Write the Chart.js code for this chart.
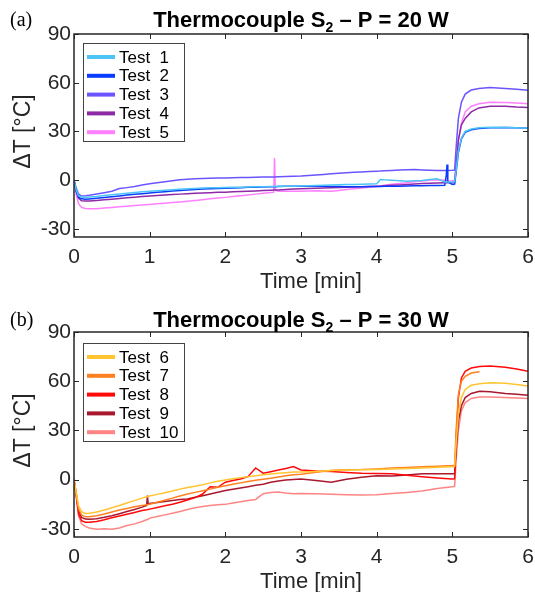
<!DOCTYPE html>
<html>
<head>
<meta charset="utf-8">
<script src="https://cdn.jsdelivr.net/npm/chart.js@4.4.0/dist/chart.umd.min.js"></script>
<style>
  body { margin: 0; background: #fff; }
  canvas { display: block; }
</style>
</head>
<body>
<canvas id="chartA" width="535" height="296"></canvas>
<canvas id="chartB" width="535" height="296"></canvas>
<script>
// axis ticks
const xTicks = [0, 1, 2, 3, 4, 5, 6];
const yTicks = [-30, 0, 30, 60, 90];

// panel (a) - P = 20 W, time in min, dT in degC
const timesA = [0, 0.03, 0.06, 0.1, 0.15, 0.2, 0.3, 0.4, 0.5, 0.6, 0.7, 0.8, 0.9,
  1.0, 1.1, 1.2, 1.3, 1.4, 1.5, 1.6, 1.7, 1.8, 1.9, 2.0,
  2.1, 2.2, 2.3, 2.4, 2.5, 2.6, 2.64, 2.65, 2.66, 2.7, 2.8, 2.9,
  3.0, 3.1, 3.2, 3.3, 3.4, 3.5, 3.6, 3.7, 3.8, 3.9,
  4.0, 4.05, 4.1, 4.2, 4.3, 4.4, 4.5, 4.6, 4.7, 4.8, 4.9, 4.92, 4.93, 4.94,
  5.0, 5.03, 5.05, 5.08, 5.12, 5.17, 5.25, 5.35, 5.5, 5.7, 5.85, 6.0];

const test1 = [0, -6, -9.5, -10.4, -10.6, -10.4, -10, -9.5, -9, -8.5, -8, -7.6, -7.2,
  -6.8, -6.5, -6.2, -5.9, -5.6, -5.3, -5.1, -4.9, -4.7, -4.6, -4.5,
  -4.4, -4.3, -4.2, -4.1, -4.0, -3.9, -3.9, -3.9, -3.9, -3.8, -3.8, -3.7,
  -3.6, -3.5, -3.3, -3.2, -3.0, -2.9, -2.7, -2.6, -2.5, -2.4,
  -2.2, 0.4, 0.2, 0, -0.3, -0.6, -0.4, -0.2, 0.4, 0.8, -1.2, -1.2, -1.2, -1.2,
  -1.1, -1.0, 6, 18, 26, 30, 31.5, 32.2, 32.6, 32.5, 32.3, 32];

const test2 = [0, -7, -10.5, -11.5, -11.8, -11.6, -11.2, -10.7, -10.2, -9.7, -9.2, -8.7, -8.3,
  -7.9, -7.5, -7.1, -6.7, -6.3, -6.0, -5.7, -5.5, -5.3, -5.1, -5.0,
  -4.8, -4.6, -4.4, -4.3, -4.2, -4.0, -4.0, -4.0, -4.0, -3.9, -3.8, -3.7,
  -3.7, -3.7, -3.8, -3.8, -3.9, -3.9, -4.0, -4.0, -4.0, -3.9,
  -3.9, -3.9, -3.8, -3.8, -3.7, -3.6, -3.5, -3.4, -3.3, -3.3, -3.2, 3, 9.6, -1,
  -2.6, -2.4, 5, 17, 25.5, 29.5, 31, 31.8, 32.3, 32.4, 32.3, 32];

const test3 = [0, -5, -8.5, -9.8, -9.6, -9.3, -8.5, -7.7, -6.8, -5.2, -4.6, -3.9, -3.0,
  -2.2, -1.6, -1.0, -0.4, 0.2, 0.6, 0.9, 1.0, 1.2, 1.3, 1.4,
  1.5, 1.6, 1.7, 1.8, 1.9, 2.0, 2.0, 2.0, 2.0, 2.1, 2.3, 2.4,
  2.5, 2.9, 3.2, 3.5, 3.9, 4.2, 4.5, 4.8, 5.1, 5.3,
  5.5, 5.6, 5.8, 6.0, 6.2, 6.4, 6.6, 6.3, 6.1, 6.0, 6.0, 6.0, 6.0, 6.0,
  6.1, 6.2, 20, 38, 48, 53, 55.5, 56.5, 57, 56.5, 56, 55.3];

const test4 = [0, -7, -11, -12.7, -12.9, -12.8, -12.5, -12.1, -11.7, -11.3, -10.9, -10.5, -10.1,
  -9.8, -9.5, -9.2, -8.9, -8.6, -8.3, -8.1, -7.9, -7.7, -7.5, -7.4,
  -7.2, -7.0, -6.8, -6.6, -6.4, -6.2, -6.1, -6.1, -6.1, -6.0, -5.8, -5.5,
  -5.3, -5.2, -5.0, -4.9, -4.7, -4.5, -4.4, -4.2, -4.0, -3.9,
  -3.8, -3.7, -3.5, -3.2, -3.0, -2.7, -2.4, -2.1, -1.9, -1.7, -1.6, -1.6, -1.6, -1.6,
  -1.5, -1.4, 8, 25, 34, 38, 42, 44.5, 45.5, 45.5, 45, 44.7];

const test5 = [0, -9, -14.5, -16.8, -17.4, -17.6, -17.6, -17.2, -16.8, -16.4, -16, -15.6, -15.3,
  -15, -14.6, -14.2, -13.8, -13.4, -13, -12.5, -12, -11.5, -11, -10.6,
  -10.1, -9.6, -9.1, -8.6, -8.1, -7.6, -7.4, 13.7, -6, -6.8, -6.9, -6.9,
  -6.8, -6.6, -6.5, -6.7, -6.8, -6.3, -5.8, -5.3, -4.8, -4.4,
  -4.0, -3.6, -3.1, -2.5, -2.0, -1.6, -1.0, -0.5, 0, 0.2, 0, -0.2, -0.4, -0.6,
  -0.4, 0, 10, 24, 35, 42, 45.5, 47, 48, 47.8, 47.5, 47];

// panel (b) - P = 30 W
const timesB = [0, 0.03, 0.06, 0.1, 0.15, 0.2, 0.3, 0.4, 0.5, 0.6, 0.7, 0.8, 0.9,
  0.96, 0.97, 0.98,
  1.0, 1.1, 1.2, 1.3, 1.4, 1.5, 1.6, 1.7, 1.8, 1.9,
  2.0, 2.1, 2.2, 2.3, 2.4, 2.5, 2.6, 2.7, 2.8, 2.9,
  3.0, 3.2, 3.4, 3.6, 3.8, 4.0, 4.2, 4.4, 4.6, 4.8, 5.0,
  5.03, 5.05, 5.08, 5.12, 5.17, 5.25, 5.36, 5.5, 5.7, 5.85, 6.0];

const test6 = [0, -8, -16, -19.5, -20.6, -20.5, -19.8, -18.5, -17.2, -15.8, -14.3, -12.8, -11.3,
  -10.5, -10.4, -10.3,
  -10, -9, -8, -7, -5.8, -4.8, -4, -3.2, -2, -1,
  -0.2, 0.5, 1.2, 1.8, 2.4, 3.0, 3.4, 3.8, 4.2, 4.6,
  4.6, 5, 5.5, 5.8, 6, 6.2, 6.5, 6.8, 7.1, 7.5, 7.8,
  7.9, 22, 40, 50, 55, 57.5, 58.5, 59, 58.7, 58, 57];

const test7 = [0, -9, -18, -21.5, -22.7, -22.7, -22, -21, -19.8, -18.6, -17.6, -16.6, -15.8,
  -15.4, -15.3, -15.2,
  -15, -13.8, -12.6, -11.3, -10, -8.8, -7.8, -6.8, -5.8, -4.7,
  -3.7, -2.8, -2, -1.2, -0.4, 0.2, 0.8, 1.6, 2.4, 3.0,
  3.3, 4.5, 5.5, 6, 6.1, 6.5, 7, 7.4, 7.8, 8.2, 8.6,
  8.7, 30, 52, 60, 63, 65, 65.7, null, null, null, null];

const test8 = [0, -10, -21, -25, -26, -26, -25.5, -24.5, -23.3, -22.2, -21.1, -20, -18.9,
  -18.4, -18.3, -18.2,
  -18, -17, -16, -15, -13.8, -12.4, -11, -8.8, -4.3, -4.7,
  -1.6, -0.5, 0.4, 1.8, 7.1, 3.9, 4.8, 5.8, 6.8, 7.9,
  5.9, 5.2, 4.9, 4.4, 3.9, 3.7, 3.5, 2.6, 1.8, 1.0, 0.4,
  0.5, 25, 50, 62, 66, 68, 69, 69.2, 68.5, 67.5, 66];

const test9 = [0, -9, -19, -23, -24.1, -24.2, -23.8, -23, -22, -20.8, -19.5, -18.2, -16.8,
  -15.8, -9.8, -14.6,
  -14.5, -13.9, -13.3, -12.7, -12.2, -11.8, -10.8, -9.8, -8.8, -7.7,
  -6.7, -5.9, -5.1, -4.3, -3.5, -2.8, -1.6, -0.8, -0.3, 0,
  0.4, -0.5, -1.6, 0.2, 1.5, 2.4, 2.2, 2.8, 3.5, 3.5, 3.5,
  3.6, 18, 36, 45, 50, 52.5, 53.9, 53.5, 52.5, 52, 51.5];

const test10 = [0, -10, -22, -27, -28.5, -29.5, -30.2, -30, -30.2, -29.5, -28, -27, -25.5,
  -24.5, -24.3, -24.2,
  -23.5, -22.5, -21.5, -20.5, -19.5, -18.2, -17.2, -16.4, -15.8, -15.4,
  -15.1, -14.3, -13.5, -12.8, -12.1, -8.6, -7.8, -7.6, -8.2, -8.6,
  -8.4, -8.6, -9.0, -9.2, -9.4, -9.2, -8.5, -7.8, -6.9, -5.4, -4.3,
  -4.1, 12, 30, 42, 47, 49.5, 50.4, 50.3, 50, 49.7, 49.4];

const labelsA = ['Test  1', 'Test  2', 'Test  3', 'Test  4', 'Test  5'];
const labelsB = ['Test  6', 'Test  7', 'Test  8', 'Test  9', 'Test  10'];
const colorsA = ['#4cc4f5', '#0a3cff', '#6a55ff', '#8e2aa6', '#ff80ff'];
const colorsB = ['#ffc430', '#ff8020', '#ff0a0a', '#a8182e', '#ff8484'];

const FONT = "'Liberation Sans', Arial, Helvetica, sans-serif";
const INK = '#262626';

function makeSeries(times, values) {
  return times.map((t, i) => ({ x: t, y: values[i] }));
}

// frame, inward ticks, legend box, titles
const decor = {
  id: 'decor',
  afterDraw(chart, args, opts) {
    const ctx = chart.ctx;
    const a = chart.chartArea;
    const xs = chart.scales.x, ys = chart.scales.y;
    ctx.save();

    ctx.strokeStyle = INK;
    ctx.lineWidth = 1.5;
    ctx.strokeRect(a.left, a.top, a.right - a.left, a.bottom - a.top);
    ctx.beginPath();
    xTicks.forEach(v => {
      const px = Math.round(xs.getPixelForValue(v)) + 0.5;
      ctx.moveTo(px, a.bottom); ctx.lineTo(px, a.bottom - 5);
      ctx.moveTo(px, a.top); ctx.lineTo(px, a.top + 5);
    });
    yTicks.forEach(v => {
      const py = Math.round(ys.getPixelForValue(v)) + 0.5;
      ctx.moveTo(a.left, py); ctx.lineTo(a.left + 5, py);
      ctx.moveTo(a.right, py); ctx.lineTo(a.right - 5, py);
    });
    ctx.lineWidth = 1;
    ctx.stroke();

    // legend
    const lx = a.left + 9, ly = a.top + opts.legendTop;
    ctx.fillStyle = '#fff';
    ctx.fillRect(lx, ly, 101, 98);
    ctx.strokeStyle = '#444';
    ctx.lineWidth = 1;
    ctx.strokeRect(lx + 0.5, ly + 0.5, 101, 98);
    ctx.font = '17px ' + FONT;
    ctx.textBaseline = 'middle';
    ctx.textAlign = 'left';
    chart.data.datasets.forEach((ds, i) => {
      const yy = ly + 14 + i * 18.8;
      ctx.fillStyle = ds.borderColor;
      ctx.fillRect(lx + 4, yy - 2, 28, 4);
      ctx.fillStyle = '#000';
      ctx.fillText(ds.label, lx + 36, yy + 1);
    });

    // title with subscript
    const cx = (a.left + a.right) / 2;
    const p1 = 'Thermocouple S', p2 = '2', p3 = ' \u2013 P = ' + opts.power + ' W';
    ctx.font = 'bold 22px ' + FONT;
    const w1 = ctx.measureText(p1).width, w3 = ctx.measureText(p3).width;
    ctx.font = 'bold 14px ' + FONT;
    const w2 = ctx.measureText(p2).width;
    let x0 = cx - (w1 + w2 + w3) / 2;
    ctx.fillStyle = '#000';
    ctx.textBaseline = 'alphabetic';
    ctx.font = 'bold 22px ' + FONT;
    ctx.fillText(p1, x0, opts.titleY);
    ctx.font = 'bold 14px ' + FONT;
    ctx.fillText(p2, x0 + w1, opts.titleY + 5);
    ctx.font = 'bold 22px ' + FONT;
    ctx.fillText(p3, x0 + w1 + w2, opts.titleY);

    // panel letter
    ctx.font = "20px 'Liberation Serif', 'Times New Roman', serif";
    ctx.fillText(opts.letter, 10, opts.titleY - 1);

    // axis titles
    ctx.fillStyle = INK;
    ctx.font = '22px ' + FONT;
    ctx.textAlign = 'center';
    ctx.fillText('Time [min]', 311, opts.xLabelY);
    ctx.translate(24, (a.top + a.bottom) / 2 - 4);
    ctx.rotate(-Math.PI / 2);
    ctx.textBaseline = 'middle';
    ctx.font = '23px ' + FONT;
    ctx.fillText('\u0394T [\u00B0C]', 0, 0);
    ctx.restore();
  }
};

function makeChart(id, times, series, labels, colors, opts) {
  return new Chart(document.getElementById(id), {
    type: 'line',
    data: {
      datasets: series.map((s, i) => ({
        label: labels[i],
        data: makeSeries(times, s),
        borderColor: colors[i],
        borderWidth: 1.5,
        pointRadius: 0,
        tension: 0,
        fill: false
      }))
    },
    options: {
      responsive: false,
      animation: false,
      layout: { padding: { top: opts.top, right: 7, left: 0, bottom: 0 } },
      plugins: {
        legend: { display: false },
        tooltip: { enabled: false },
        decor: opts
      },
      scales: {
        x: {
          type: 'linear', min: 0, max: 6,
          grid: { display: false, drawTicks: false },
          border: { display: false },
          ticks: { font: { family: FONT, size: 21 }, color: INK, padding: 8, maxRotation: 0 },
          afterBuildTicks: s => { s.ticks = xTicks.map(v => ({ value: v })); },
          afterFit: s => { s.height = opts.bottomSpace; s.paddingLeft = 0; s.paddingRight = 0; }
        },
        y: {
          min: -35, max: 90,
          grid: { display: false, drawTicks: false },
          border: { display: false },
          ticks: { font: { family: FONT, size: 21 }, color: INK, padding: 3 },
          afterBuildTicks: s => { s.ticks = yTicks.map(v => ({ value: v })); },
          afterFit: s => { s.width = 74; s.paddingTop = 0; s.paddingBottom = 0; }
        }
      }
    },
    plugins: [decor]
  });
}

makeChart('chartA', timesA, [test1, test2, test3, test4, test5], labelsA, colorsA,
  { top: 34, bottomSpace: 59, legendTop: 9, titleY: 26.5, xLabelY: 288, letter: '(a)', power: 20 });
makeChart('chartB', timesB, [test6, test7, test8, test9, test10], labelsB, colorsB,
  { top: 36, bottomSpace: 55, legendTop: 11, titleY: 30.5, xLabelY: 292, letter: '(b)', power: 30 });
</script>
</body>
</html>
